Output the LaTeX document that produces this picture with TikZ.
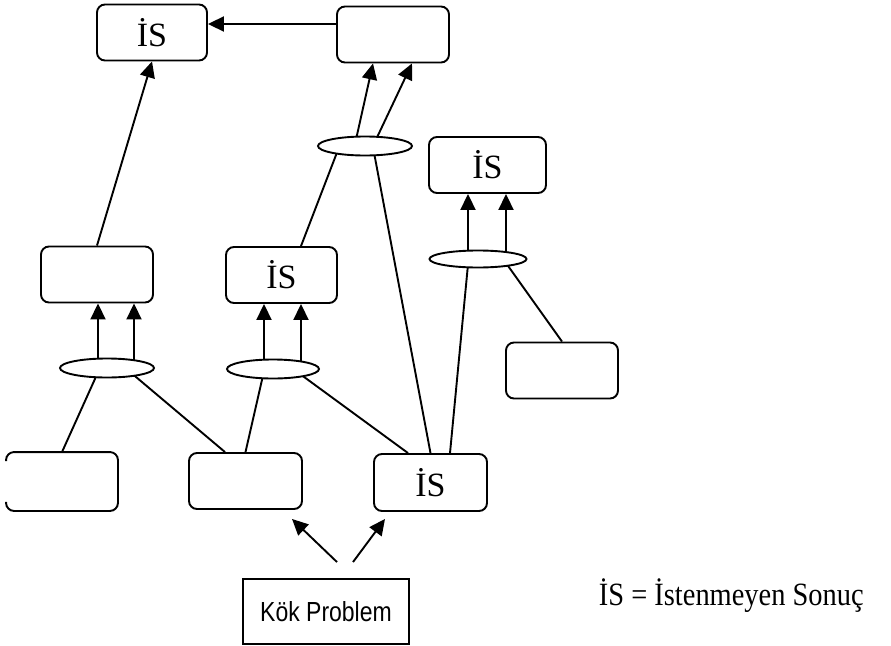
\documentclass[tikz,border=0pt]{standalone}
\usepackage{fontspec}
\usepackage{graphicx}
\setmainfont{Liberation Serif}
\newfontfamily\arialfont{Liberation Sans}
\usetikzlibrary{arrows.meta,backgrounds,shapes.geometric}

\begin{document}
\begin{tikzpicture}[x=1pt,y=-1pt,
  line width=1.9pt,
  rbox/.style={draw, rounded corners=8pt, fill=white, inner sep=0pt,
    minimum width=#1, minimum height=56pt, font=\fontsize{34}{38}\selectfont},
  rbox/.default=112pt,
  andnode/.style={draw, ellipse, fill=white, inner sep=0pt,
    minimum width=94pt, minimum height=19pt},
  link/.style={line width=1.9pt},
  arr/.style={link, -{Triangle[width=15pt,length=16pt]}},
]
\useasboundingbox (0,0) rectangle (891,645);

% result boxes
\node[rbox=110pt] (A) at (152,32.5) {İS};
\node[rbox] (B) at (393,34.5) {};
\node[rbox] (C) at (97,274.5) {};
\node[rbox=111pt] (D) at (281.5,275) {İS};
\node[rbox=117pt] (I) at (487.5,165) {İS};
\node[rbox] (J) at (562,370.5) {};
\node[rbox=113pt] (G) at (245.5,481) {};
\node[rbox=113pt, minimum height=57pt] (H) at (430.5,482.5) {İS};

% box cut at the left margin: only its corners show on that side
\node[minimum width=110pt, minimum height=57pt, inner sep=0pt] (F) at (62,481.5) {};
\draw[rounded corners=8pt] ([yshift=-9pt]F.north west) |- (F.north east)
  |- (F.south west) -- ([yshift=9pt]F.south west);

% "and" ellipses
\node[andnode] (E1) at (365,146) {};
\node[andnode] (E2) at (107,368) {};
\node[andnode, minimum width=92pt] (E3) at (273,369) {};
\node[andnode, minimum width=97pt, minimum height=17pt] (E4) at (478,259) {};

% root problem
\node[draw, fill=white, minimum width=166pt, minimum height=65pt, inner sep=0pt,
  font=\arialfont\fontsize{23}{27}\selectfont] (K) at (326,611.5)
  {\scalebox{1}[1.2]{Kök Problem}};

% legend
\node[anchor=base west, inner sep=0pt, font=\fontsize{29}{34}\selectfont]
  (legend) at (598,605) {\scalebox{0.98}[1.12]{İS = İstenmeyen Sonuç}};

\begin{scope}[on background layer]
  % top level
  \draw[arr] ([yshift=10.5pt]B.west) -- ([yshift=10.5pt]B.west -| A.east);
  \draw[arr] (C.north) -- (A.south);
  \draw[arr] ([xshift=-9pt,yshift=-4pt]E1.north) -- ([xshift=-20pt]B.south);
  \draw[arr] ([xshift=11pt,yshift=-4pt]E1.north) -- ([xshift=19pt]B.south);
  \draw[link] ([xshift=-28pt,yshift=4pt]E1.south) -- ([xshift=19.5pt]D.north);
  \draw[link] ([xshift=9pt,yshift=4pt]E1.south) -- (H.north);

  % right group
  \draw[arr] ([xshift=-10pt,yshift=-4pt]E4.north) -- ([xshift=-19.5pt]I.south);
  \draw[arr] ([xshift=28pt,yshift=-4pt]E4.north) -- ([xshift=18.5pt]I.south);
  \draw[link] ([xshift=-10pt,yshift=4pt]E4.south) -- ([xshift=19.5pt]H.north);
  \draw[link] ([xshift=29pt,yshift=4pt]E4.south) -- (J.north);

  % left group
  \draw[arr] ([xshift=-9pt,yshift=-4pt]E2.north) -- ([xshift=1pt]C.south);
  \draw[arr] ([xshift=27pt,yshift=-4pt]E2.north) -- ([xshift=37pt]C.south);
  \draw[link] ([xshift=-10pt,yshift=4pt]E2.south) -- (F.north);
  \draw[link] ([xshift=26pt,yshift=4pt]E2.south) -- ([xshift=-20.5pt]G.north);

  % middle group
  \draw[arr] ([xshift=-9pt,yshift=-4pt]E3.north) -- ([xshift=-17.5pt]D.south);
  \draw[arr] ([xshift=28pt,yshift=-4pt]E3.north) -- ([xshift=19.5pt]D.south);
  \draw[link] ([xshift=-10pt,yshift=4pt]E3.south) -- (G.north);
  \draw[link] ([xshift=29pt,yshift=4pt]E3.south) -- ([xshift=-22.5pt]H.north);

  % root problem causes
  \draw[arr] ([xshift=11pt,yshift=16pt]K.north) -- ([xshift=46.5pt,yshift=-9pt]G.south);
  \draw[arr] ([xshift=27pt,yshift=16pt]K.north) -- ([xshift=-45.5pt,yshift=-7pt]H.south);
\end{scope}
\end{tikzpicture}
\end{document}
